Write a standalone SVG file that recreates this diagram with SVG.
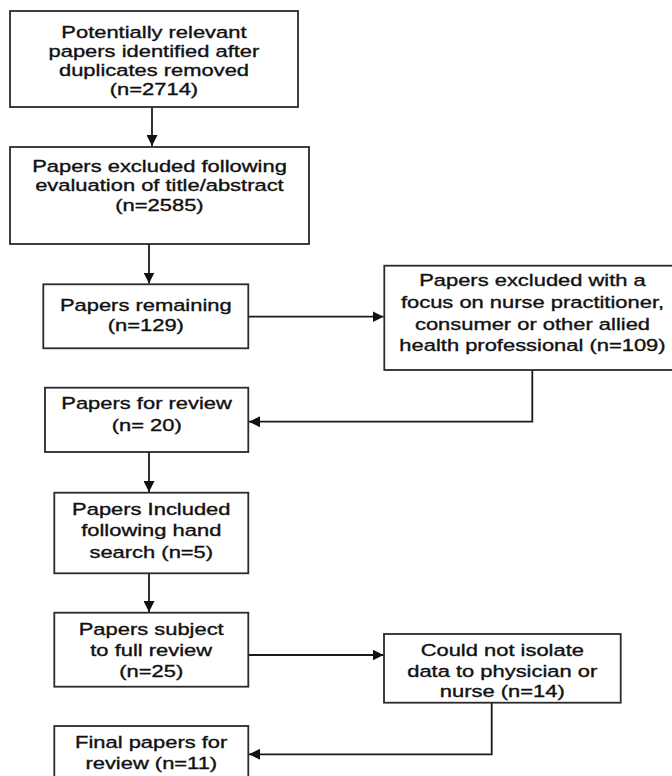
<svg xmlns="http://www.w3.org/2000/svg" width="672" height="776" viewBox="0 0 672 776">
<style>
.box{fill:#fff;stroke:#2a2a2a;stroke-width:1.8}
.t{font-family:"Liberation Sans",Arial,sans-serif;font-size:17px;fill:#111;stroke:#111;stroke-width:0.35;text-anchor:middle;transform-box:fill-box;transform-origin:center;transform:scaleX(1.29)}
.c{fill:none;stroke:#1a1a1a;stroke-width:1.8}
</style>
<defs>
<marker id="ah" markerUnits="userSpaceOnUse" markerWidth="11" markerHeight="11" refX="10" refY="5" orient="auto" viewBox="0 0 10 10">
<path d="M0,0 L10,5 L0,10 z" fill="#111"/>
</marker>
</defs>
<rect width="672" height="776" fill="#fff"/>
<g id="connectors">
<path class="c" d="M152,107 V146" marker-end="url(#ah)"/>
<path class="c" d="M149,244 V283.5" marker-end="url(#ah)"/>
<path class="c" d="M248.3,316.7 H383.5" marker-end="url(#ah)"/>
<path class="c" d="M532.3,370 V421.7 H249" marker-end="url(#ah)"/>
<path class="c" d="M149,452 V492" marker-end="url(#ah)"/>
<path class="c" d="M149,573.3 V612" marker-end="url(#ah)"/>
<path class="c" d="M248.3,655 H383.5" marker-end="url(#ah)"/>
<path class="c" d="M491.7,702.7 V754.3 H249" marker-end="url(#ah)"/>
</g>
<g id="n1">
<rect class="box" x="10" y="11" width="288" height="96"/>
<text class="t" x="154" y="38">Potentially relevant</text>
<text class="t" x="154" y="57">papers identified after</text>
<text class="t" x="154" y="76">duplicates removed</text>
<text class="t" x="154" y="95">(n=2714)</text>
</g>
<g id="n2">
<rect class="box" x="10" y="147" width="299" height="97"/>
<text class="t" x="159.5" y="172">Papers excluded following</text>
<text class="t" x="159.5" y="191.5">evaluation of title/abstract</text>
<text class="t" x="159.5" y="211">(n=2585)</text>
</g>
<g id="n3">
<rect class="box" x="43.3" y="284.3" width="205" height="64"/>
<text class="t" x="145.8" y="311.5">Papers remaining</text>
<text class="t" x="145.8" y="331.5">(n=129)</text>
</g>
<g id="n4">
<rect class="box" x="384.3" y="265.7" width="296" height="104.3"/>
<text class="t" x="532.5" y="286.5">Papers excluded with a</text>
<text class="t" x="532.5" y="308.5">focus on nurse practitioner,</text>
<text class="t" x="532.5" y="330">consumer or other allied</text>
<text class="t" x="532.5" y="351.5">health professional (n=109)</text>
</g>
<g id="n5">
<rect class="box" x="45" y="387.7" width="203.3" height="64.3"/>
<text class="t" x="146.7" y="409.5">Papers for review</text>
<text class="t" x="146.7" y="431.5">(n= 20)</text>
</g>
<g id="n6">
<rect class="box" x="54.3" y="492.7" width="194" height="80.6"/>
<text class="t" x="151.3" y="515">Papers Included</text>
<text class="t" x="151.3" y="536.5">following hand</text>
<text class="t" x="151.3" y="558">search (n=5)</text>
</g>
<g id="n7">
<rect class="box" x="54.3" y="612.7" width="194" height="74"/>
<text class="t" x="151.3" y="635">Papers subject</text>
<text class="t" x="151.3" y="656.5">to full review</text>
<text class="t" x="151.3" y="677.5">(n=25)</text>
</g>
<g id="n8">
<text class="t" x="502.3" y="656.5">Could not isolate</text>
<text class="t" x="502.3" y="677">data to physician or</text>
<text class="t" x="502.3" y="697">nurse (n=14)</text>
<rect x="384" y="634" width="236.7" height="68.7" fill="none" stroke="#2a2a2a" stroke-width="1.8"/>
</g>
<g id="n9">
<rect class="box" x="54.3" y="726" width="194" height="60"/>
<text class="t" x="151.3" y="748.5">Final papers for</text>
<text class="t" x="151.3" y="769">review (n=11)</text>
</g>
</svg>
